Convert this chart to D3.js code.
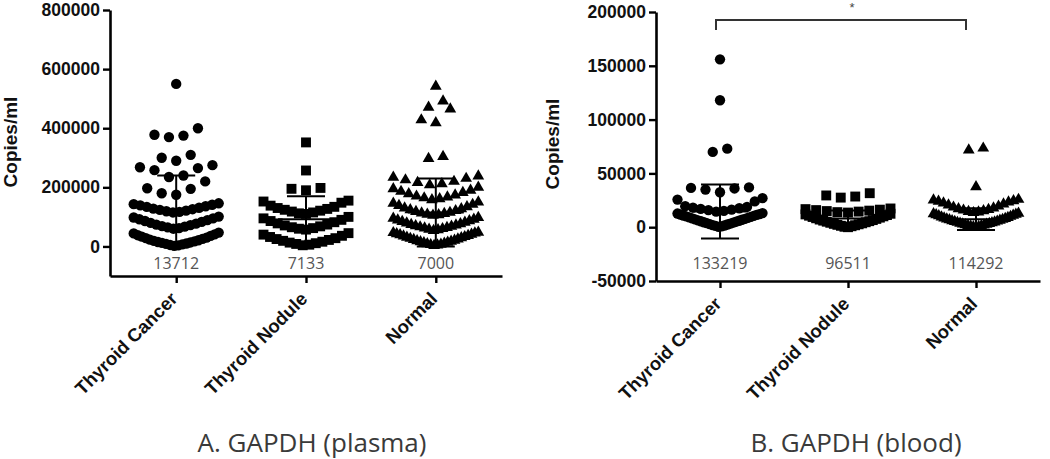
<!DOCTYPE html>
<html><head><meta charset="utf-8">
<script src="https://cdn.jsdelivr.net/npm/d3@7"></script>
<style>body{margin:0;background:#fff}svg{display:block}</style>
</head><body><svg id="c" width="1050" height="459"></svg>
<script>
const categories = ["Thyroid Cancer", "Thyroid Nodule", "Normal"];

// Panel A: plasma (copies/ml)
const plasmaCancer = [2000, 3500, 5000, 7000, 8500, 10000, 12000, 13500, 15000, 17000, 19000, 21000, 23000, 25500, 28000, 30000, 33000, 35500, 38000, 41000, 44000, 47000,
  60000, 62000, 64500, 67000, 69000, 72000, 74000, 77000, 80000, 83000, 86000, 89000, 92000, 95000, 98000, 101000,
  115000, 117000, 119000, 121000, 123500, 126000, 128000, 131000, 134000, 136000, 139000, 141000, 143000, 146000,
  175000, 180000, 195000, 197000, 220000, 235000, 240000, 258000, 265000, 268000, 275000, 290000, 300000, 310000, 370000, 375000, 378000, 400000, 550000];
const plasmaNodule = [4000, 6000, 8500, 11000, 13000, 16000, 19000, 22000, 25000, 28000, 32000, 36000, 40000, 45000,
  57000, 60000, 62000, 65000, 68000, 71000, 74000, 78000, 82000, 86000, 90000, 95000, 100000,
  110000, 112000, 115000, 118000, 121000, 124000, 127000, 130000, 134000, 138000, 148000, 152000, 155000,
  190000, 195000, 198000, 257000, 352000];
const plasmaNormal = [3000, 4500, 6000, 7500, 9000, 10500, 12000, 14000, 15500, 17000, 19000, 21000, 23000, 25000, 27000, 29000, 31000, 33000, 35000, 37000, 39000, 41000, 43000, 45000, 46500, 48000,
  54000, 56000, 58000, 60000, 62000, 64000, 66000, 68000, 70000, 72000, 74000, 76500, 79000, 81500, 84000, 86500, 89000, 92000, 95000, 98000,
  105000, 107000, 109000, 111000, 113000, 115000, 118000, 121000, 124000, 127000, 130000, 134000, 138000, 142000, 146000, 150000,
  158000, 161000, 164000, 167000, 170000, 174000, 178000, 182000, 186000, 190000, 195000, 200000,
  208000, 212000, 216000, 220000, 225000, 230000, 234000, 238000,
  297000, 304000, 418000, 428000, 465000, 471000, 492000, 542000];
const plasmaMean = [125000, 92000, 115000];
const plasmaSD = [115000, 78000, 115000];
const plasmaCounts = ["13712", "7133", "7000"];
const plasmaTicks = [0, 200000, 400000, 600000, 800000];

// Panel B: blood (copies/ml)
const bloodCancer = [300, 700, 1200, 1600, 2000, 2500, 2900, 3300, 3800, 4200, 4600, 5100, 5500, 6000, 6400, 6900, 7300, 7800, 8200, 8700, 9100, 9600, 10000, 10500, 10900, 11400, 11800, 12200, 12700, 13100,
  14500, 15200, 15800, 16400, 17000, 17600, 18200, 18900, 19500, 24000, 25700, 27000,
  32500, 35000, 36000, 36500, 37000, 70000, 73000, 118000, 156000];
const bloodNodule = [0, 400, 900, 1300, 1800, 2200, 2700, 3100, 3600, 4100, 4600, 5100, 5600, 6100, 6600, 7100, 7700, 8300, 8900, 9500, 10100, 10700, 11300, 11900, 12500,
  13600, 14000, 14500, 15000, 15400, 15900, 16300, 16800, 17400,
  27500, 28500, 29500, 31600];
const bloodNormal = [0, 300, 600, 900, 1200, 1600, 1900, 2200, 2600, 2900, 3300, 3600, 4000, 4400, 4800, 5200, 5600, 6000, 6400, 6800, 7200, 7600, 8000, 8500, 9000, 9500, 10000, 10500, 11000, 11500, 12000, 12500, 12900,
  13500, 14000, 14600, 15200, 15800, 16400, 17000, 17800, 18600, 19500, 20500, 21500, 22500, 23300, 24000, 24600, 25200, 25800,
  37500, 71600, 73400];
const bloodMean = [14600, 8000, 7500];
const bloodSD = [25000, 7500, 10000];
const bloodCounts = ["133219", "96511", "114292"];
const bloodTicks = [-50000, 0, 50000, 100000, 150000, 200000];

const panelTitles = ["A. GAPDH (plasma)", "B. GAPDH (blood)"];
const yTitle = "Copies/ml";
const sigLabel = "*";

const svg = d3.select("#c");
const symbols = [d3.symbolCircle, d3.symbolSquare, d3.symbolTriangle];
const symSizes = [84, 98, 60];

function swarm(values, y, thrPx, spacing, maxW) {
  const sorted = values.slice().sort((a, b) => a - b);
  const rows = []; let cur = null;
  for (const v of sorted) {
    if (!cur || (y(cur[0]) - y(v)) > thrPx) { cur = [v]; rows.push(cur); } else cur.push(v);
  }
  const out = [];
  rows.forEach(r => {
    const n = r.length;
    const sp = n > 1 ? Math.min(spacing, maxW / (n - 1)) : 0;
    const offs = d3.range(n).map(i => (i - (n - 1) / 2) * sp);
    offs.sort((a, b) => (Math.abs(a) - Math.abs(b)) || (a - b));
    r.forEach((v, i) => out.push({ v, dx: offs[i] }));
  });
  return out;
}

function panel(cfg) {
  const g = svg.append("g");
  const x = d3.scalePoint().domain(categories).range(cfg.xr).padding(cfg.pad);
  const y = d3.scaleLinear().domain(cfg.yd).range(cfg.yr);

  // points
  cfg.groups.forEach((vals, gi) => {
    const pts = swarm(vals, y, 14, 14.5, 85);
    g.append("g").selectAll("path").data(pts).join("path")
      .attr("d", d3.symbol(symbols[gi], symSizes[gi]))
      .attr("transform", d => `translate(${x(categories[gi]) + d.dx},${y(d.v)})`)
      .attr("fill", "#000");
  });

  // mean +/- SD
  categories.forEach((c, i) => {
    const cx = x(c), m = cfg.mean[i], s = cfg.sd[i];
    const eg = g.append("g").attr("stroke", "#000").attr("stroke-width", 2);
    eg.append("line").attr("x1", cx).attr("x2", cx).attr("y1", y(m - s)).attr("y2", y(m + s));
    eg.append("line").attr("x1", cx - 19).attr("x2", cx + 19).attr("y1", y(m + s)).attr("y2", y(m + s));
    eg.append("line").attr("x1", cx - 19).attr("x2", cx + 19).attr("y1", y(m - s)).attr("y2", y(m - s));
    eg.append("line").attr("x1", cx - 28).attr("x2", cx + 28).attr("y1", y(m)).attr("y2", y(m));
  });

  // y axis
  const ya = g.append("g").attr("transform", `translate(${cfg.xr[0]},0)`)
    .call(d3.axisLeft(y).tickValues(cfg.ticks).tickSize(7).tickSizeOuter(0).tickFormat(d => String(d)));
  ya.select(".domain").attr("stroke-width", 2.6);
  ya.selectAll(".tick line").attr("stroke-width", 2.4);
  ya.selectAll(".tick text").attr("font-family", "'Liberation Sans', Arial, sans-serif")
    .attr("font-weight", "bold").attr("font-size", 17.5).attr("fill", "#111");

  // x axis
  const axisY = cfg.yr[0];
  const xa = g.append("g").attr("transform", `translate(0,${axisY})`)
    .call(d3.axisBottom(x).tickSize(7).tickSizeOuter(0));
  xa.select(".domain").attr("stroke-width", 2.6);
  xa.selectAll(".tick line").attr("stroke-width", 2.4);
  xa.selectAll(".tick text")
    .attr("font-family", "'Liberation Sans', Arial, sans-serif")
    .attr("font-weight", "bold").attr("font-size", 18.5).attr("fill", "#111")
    .attr("text-anchor", "end").attr("y", 0).attr("dy", 0)
    .attr("transform", "translate(2,24) rotate(-45)");

  // count labels
  g.append("g").selectAll("text").data(cfg.counts).join("text")
    .attr("x", (d, i) => x(categories[i])).attr("y", 269)
    .attr("text-anchor", "middle").attr("font-family", "'Open Sans', sans-serif")
    .attr("font-size", 16).attr("fill", "#555").text(d => d);

  // y title
  g.append("text").attr("transform", `translate(${cfg.ytx},${cfg.yty}) rotate(-90)`)
    .attr("text-anchor", "middle").attr("font-family", "'Liberation Sans', Arial, sans-serif")
    .attr("font-weight", "bold").attr("font-size", 19).attr("fill", "#111").text(yTitle);

  // panel title
  g.append("text").attr("x", cfg.tx).attr("y", 452).attr("text-anchor", "middle")
    .attr("font-family", "'Open Sans', sans-serif").attr("font-size", 26).attr("fill", "#3a3a3a")
    .text(cfg.title);
  return { x, y };
}

panel({ xr: [110, 502], pad: 0.51, yd: [-100000, 800000], yr: [276, 10], ticks: plasmaTicks,
  groups: [plasmaCancer, plasmaNodule, plasmaNormal], mean: plasmaMean, sd: plasmaSD,
  counts: plasmaCounts, ytx: 17, yty: 142, tx: 312, title: panelTitles[0] });

const pB = panel({ xr: [656, 1040], pad: 0.5, yd: [-50000, 200000], yr: [281, 12], ticks: bloodTicks,
  groups: [bloodCancer, bloodNodule, bloodNormal], mean: bloodMean, sd: bloodSD,
  counts: bloodCounts, ytx: 559, yty: 144, tx: 856, title: panelTitles[1] });

// significance bracket between Thyroid Cancer and Normal (blood)
const bx0 = pB.x(categories[0]) - 4, bx1 = pB.x(categories[2]) - 10;
svg.append("path").attr("d", `M${bx0},30V20H${bx1}V30`).attr("fill", "none")
  .attr("stroke", "#333").attr("stroke-width", 2);
svg.append("text").attr("x", 852).attr("y", 12).attr("text-anchor", "middle")
  .attr("font-family", "'Liberation Sans', Arial, sans-serif").attr("font-size", 13).attr("fill", "#444")
  .text(sigLabel);
</script></body></html>
